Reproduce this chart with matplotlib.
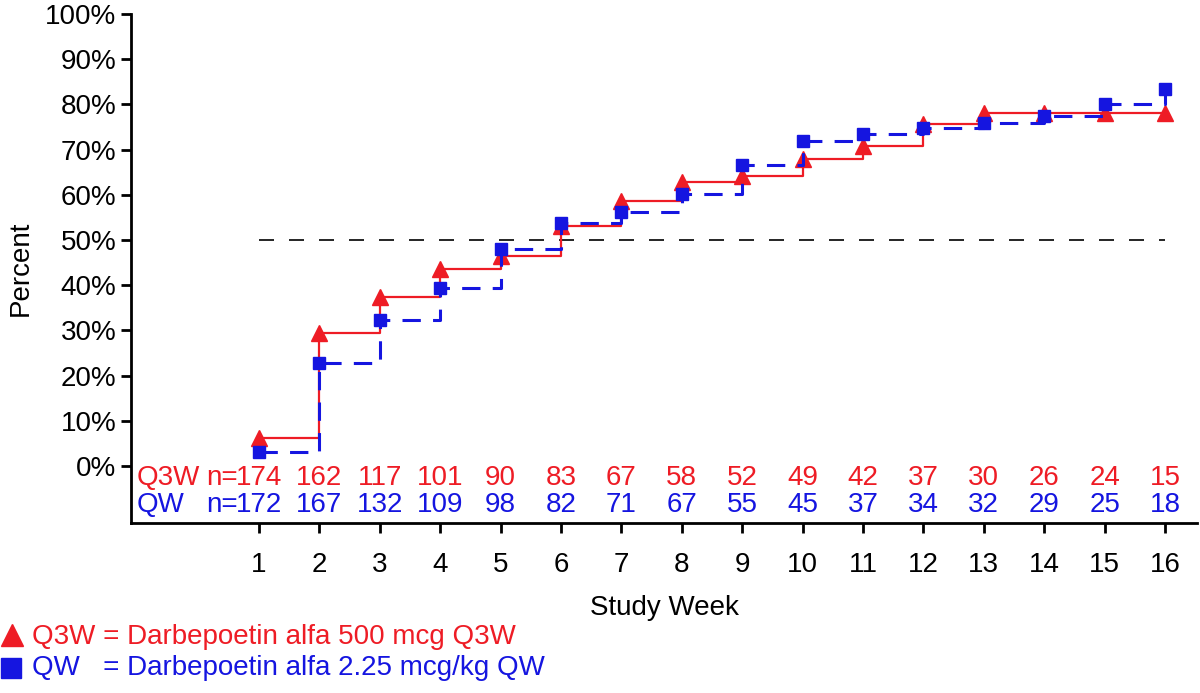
import numpy as np
import matplotlib
matplotlib.use("Agg")
import matplotlib.pyplot as plt
from matplotlib import transforms
from matplotlib.lines import Line2D

plt.rcParams['font.family'] = ['Liberation Sans', 'DejaVu Sans']

# Data
weeks = np.arange(1, 17)
q3w_pct = [6.1, 29.4, 37.3, 43.5, 46.5, 53.0, 58.6, 62.8, 64.2, 67.9, 70.9, 75.7, 78.1, 78.1, 78.1, 78.1]
qw_pct = [3.0, 22.7, 32.2, 39.4, 48.0, 53.7, 56.3, 60.2, 66.7, 71.9, 73.4, 74.8, 75.8, 77.4, 80.1, 83.4]
q3w_n = [174, 162, 117, 101, 90, 83, 67, 58, 52, 49, 42, 37, 30, 26, 24, 15]
qw_n = [172, 167, 132, 109, 98, 82, 71, 67, 55, 45, 37, 34, 32, 29, 25, 18]
ref_pct = 50

red = '#ee1c25'
blue = '#1515e0'
fs = 20

fig = plt.figure(figsize=(12, 6.93), dpi=100)
ax = fig.add_axes([0.1092, 0.2453, 0.8883, 0.7345])

# reference line at 50%
ax.plot([weeks[0], weeks[-1]], [ref_pct, ref_pct], color='black', lw=1.2,
        dashes=(9, 9), zorder=1)

# step curves
ax.plot(weeks, q3w_pct, drawstyle='steps-post', color=red, lw=1.6, zorder=2)
ax.plot(weeks, q3w_pct, ls='none', marker='^', ms=11, color=red, zorder=3)
ax.plot(weeks, qw_pct, drawstyle='steps-post', color=blue, lw=2.2,
        dashes=(6, 4), zorder=4)
ax.plot(weeks, qw_pct, ls='none', marker='s', ms=9, color=blue, zorder=5)

# numbers at risk
y_red, y_blue = -2.7, -8.6
for w, a, b in zip(weeks, q3w_n, qw_n):
    ax.text(w, y_red, str(a), color=red, fontsize=fs, ha='center', va='center')
    ax.text(w, y_blue, str(b), color=blue, fontsize=fs, ha='center', va='center')
shift = transforms.offset_copy(ax.transData, fig=fig, x=-21, y=0, units='dots')
ax.text(weeks[0], y_red, 'n=', color=red, fontsize=fs, ha='right', va='center', transform=shift)
ax.text(weeks[0], y_blue, 'n=', color=blue, fontsize=fs, ha='right', va='center', transform=shift)
ax.text(-1.02, y_red, 'Q3W', color=red, fontsize=fs, ha='left', va='center')
ax.text(-1.02, y_blue, 'QW', color=blue, fontsize=fs, ha='left', va='center')

# axes styling
ax.set_xlim(-1.12, 16.53)
ax.set_ylim(-12.6, 100)
ax.set_xticks(weeks)
ax.set_yticks(np.arange(0, 101, 10))
ax.set_yticklabels([f'{v}%' for v in range(0, 101, 10)])
ax.spines['top'].set_visible(False)
ax.spines['right'].set_visible(False)
ax.spines['left'].set_bounds(-12.6, 100)
ax.spines['left'].set_linewidth(2)
ax.spines['bottom'].set_linewidth(2)
ax.tick_params(width=2, length=7, labelsize=fs, direction='out')
ax.tick_params(axis='x', pad=14)
ax.set_xlabel('Study Week', fontsize=fs, labelpad=12)
ax.set_ylabel('Percent', fontsize=fs, labelpad=8)

# legend at the bottom
y1 = 1 - 637 / 693
y2 = 1 - 668 / 693
fig.add_artist(Line2D([12 / 1200], [y1 + 0.003], transform=fig.transFigure,
                      marker='^', ms=16, color=red, ls='none'))
fig.add_artist(Line2D([11 / 1200], [y2], transform=fig.transFigure,
                      marker='s', ms=14, color=blue, ls='none'))
fig.text(0.027, y1, 'Q3W = Darbepoetin alfa 500 mcg Q3W', color=red,
         fontsize=fs, va='center', ha='left')
fig.text(0.027, y2, 'QW   = Darbepoetin alfa 2.25 mcg/kg QW', color=blue,
         fontsize=fs, va='center', ha='left')

fig.savefig('out.png', dpi=100)
